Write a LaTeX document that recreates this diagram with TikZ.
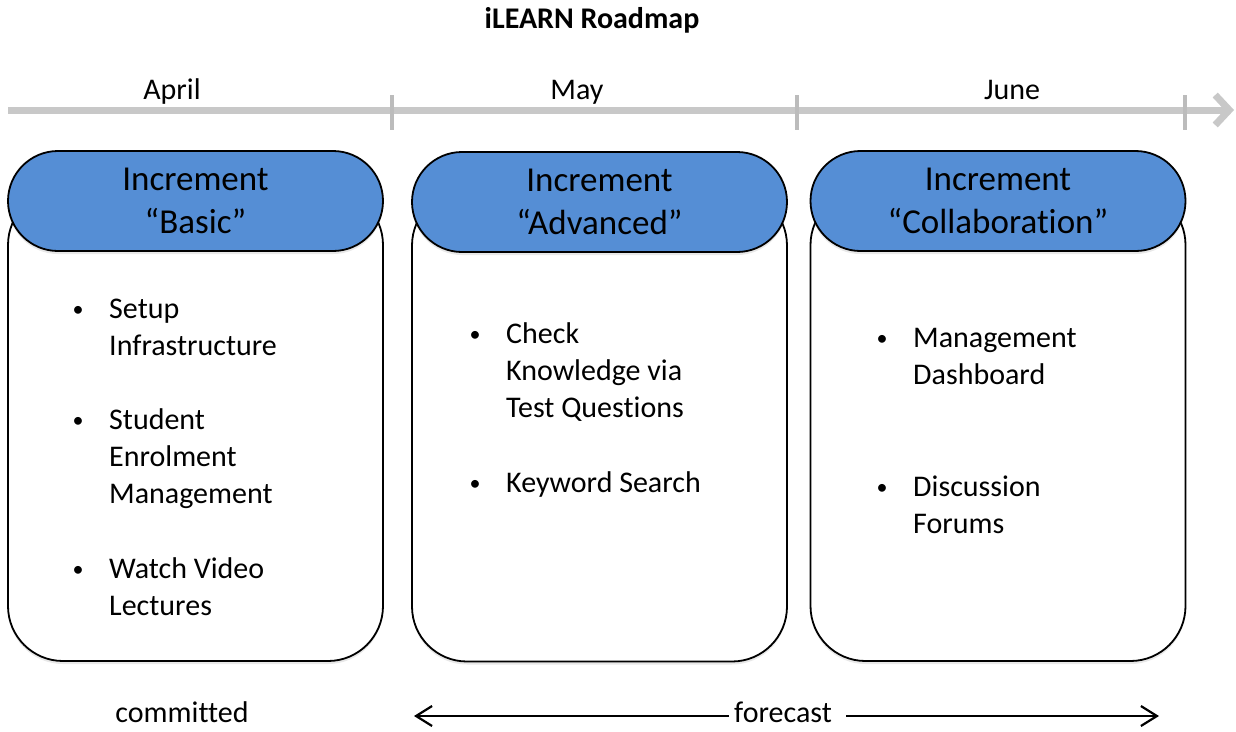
\documentclass[tikz,border=0pt]{standalone}
\usepackage{fontspec}
\setmainfont{Carlito}[Ligatures=NoCommon]
\usepackage{xcolor}
\usetikzlibrary{arrows.meta,positioning,shadows}

\definecolor{headblue}{RGB}{85,142,213}
\definecolor{axisgray}{RGB}{200,200,200}
\definecolor{tickgray}{RGB}{188,188,188}

% item text, baseline on its first line
\newcommand{\itemlines}[1]{\begin{tabular}[t]{@{}l@{}}#1\end{tabular}}

\begin{document}
\begin{tikzpicture}[x=1pt, y=-1pt,
  body/.style={draw, line width=1.8pt, fill=white, rounded corners=55pt, minimum width=375pt, minimum height=471pt, inner sep=0pt, drop shadow={opacity=0.18, shadow xshift=0pt, shadow yshift=-3pt}},
  head/.style={draw, line width=1.8pt, fill=headblue, rounded corners=50pt, minimum width=375pt, minimum height=100pt, inner sep=0pt, align=center, font=\fontsize{35}{43}\selectfont, drop shadow={opacity=0.18, shadow xshift=0pt, shadow yshift=-3pt}},
  item/.style={anchor=base west, inner sep=0pt, font=\fontsize{30}{37}\selectfont},
  dot/.style={anchor=base, inner sep=0pt, font=\fontsize{22}{26}\selectfont},
  month/.style={anchor=base, inner sep=0pt, font=\fontsize{30}{36}\selectfont},
  axis/.style={line width=7pt, draw=axisgray, -{Straight Barb[length=14pt, width=30pt]}},
  tick/.style={line width=4.5pt, draw=tickgray},
  fcarrow/.style={line width=2.2pt, -{Straight Barb[length=16pt, width=20pt]}},
]
\useasboundingbox (0,0) rectangle (1236,731);

% title
\node[month, font=\fontsize{30}{36}\selectfont\bfseries] (title) at (592,28) {iLEARN Roadmap};

% timeline
\coordinate (tlS) at (8,110);
\coordinate (tlE) at (1234,110);
\draw[axis] (tlS) -- (tlE);
\foreach \x in {392,797,1185}
  \draw[tick] (\x,95) -- (\x,130);

\node[month] (apr) at (172,99) {April};
\node[month] (may) at (577,99) {May};
\node[month] (jun) at (1012,99) {June};

% increments
\node[body] (b1) at (195.5,425.5) {};
\node[head] (h1) at (195.5,201) {Increment\\“Basic”};
\node[body] (b2) at (599.5,426) {};
\node[head] (h2) at (599.5,202) {Increment\\“Advanced”};
\node[body] (b3) at (998,425.5) {};
\node[head] (h3) at (998,201) {Increment\\“Collaboration”};

% contents
\node[item] (i11) at (109,318) {\itemlines{Setup\\Infrastructure}};
\node[item] (i12) at (109,429) {\itemlines{Student\\Enrolment\\Management}};
\node[item] (i13) at (109,578) {\itemlines{Watch Video\\Lectures}};
\node[item] (i21) at (506,343) {\itemlines{Check\\Knowledge via\\Test Questions}};
\node[item] (i22) at (506,492) {\itemlines{Keyword Search}};
\node[item] (i31) at (913,347) {\itemlines{Management\\Dashboard}};
\node[item] (i32) at (913,496) {\itemlines{Discussion\\Forums}};
\foreach \n in {i11,i12,i13,i21,i22,i31,i32}
  \node[dot] at ([xshift=-31pt, yshift=2pt]\n.base west) {\textbullet};

% commitment
\node[month] (com) at (182,722) {committed};
\node[month] (fc) at (783,722) {forecast};
\coordinate (fcL) at (414,716);
\coordinate (fcR) at (1159,716);
\draw[fcarrow] ([xshift=-5pt]fc.west |- fcL) -- (fcL);
\draw[fcarrow] ([xshift=14pt]fc.east |- fcR) -- (fcR);

\end{tikzpicture}
\end{document}
